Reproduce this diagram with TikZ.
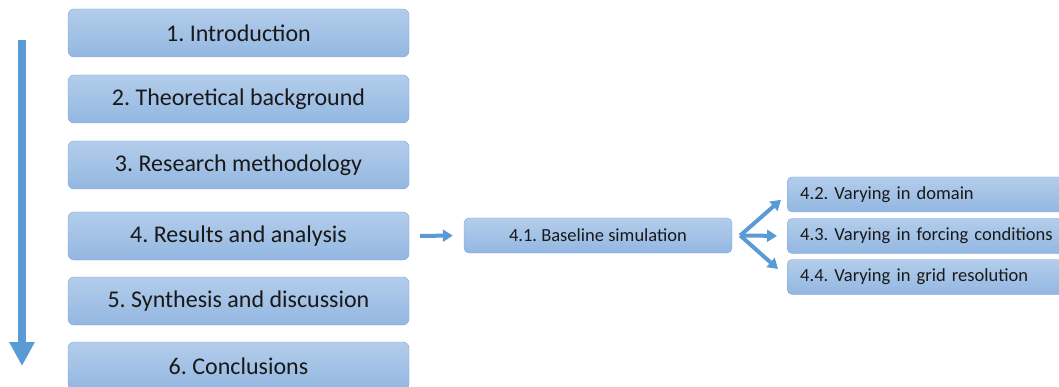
\documentclass[tikz,border=0pt]{standalone}
\usepackage{fontspec}
\setmainfont{Carlito}
\usepackage{xcolor}
\usepackage{tikz}
\usetikzlibrary{positioning,arrows.meta}
\frenchspacing
\definecolor{boxtop}{HTML}{B3CDEB}
\definecolor{boxbot}{HTML}{93B7E1}
\definecolor{boxline}{HTML}{7AA6D8}
\definecolor{flowblue}{HTML}{5B9BD5}
\tikzset{
  chap/.style={rectangle, rounded corners=6pt, draw=boxline, top color=boxtop, bottom color=boxbot,
    minimum width=341pt, minimum height=48pt, font=\fontsize{24}{28}\selectfont, text=black!90},
  sub/.style={rectangle, rounded corners=5pt, draw=boxline, top color=boxtop, bottom color=boxbot,
    minimum height=35pt, font=\fontsize{18.5}{22}\selectfont, text=black!90},
  subl/.style={sub, anchor=west, text width=294pt, inner xsep=13pt, align=left},
  flow/.style={draw=flowblue, line width=4pt, -{Triangle[width=12pt, length=10pt]}},
  bigflow/.style={draw=flowblue, line width=8pt, -{Triangle[width=24pt, length=24pt]}}
}
\begin{document}
\begin{tikzpicture}[x=1pt, y=-1pt]
  \useasboundingbox (0,0) rectangle (1059,387);

  % Chapter boxes
  \node[chap] (c1) at (238.5,33) {1. Introduction};
  \node[chap] (c2) at (238.5,99) {2. Theoretical background};
  \node[chap] (c3) at (238.5,165) {3. Research methodology};
  \node[chap] (c4) at (238.5,236) {4. Results and analysis};
  \node[chap] (c5) at (238.5,301) {5. Synthesis and discussion};
  \node[chap] (c6) at (238.5,366) {6. Conclusions};

  % Reading order arrow
  \coordinate (top) at (22,40);
  \coordinate (bot) at (22,366);
  \draw[bigflow] (top) -- (bot);

  % Baseline box
  \node[sub, minimum width=268pt] (base) at (598,235.5) {4.1. Baseline simulation};
  \draw[flow, shorten <=11pt, shorten >=11pt] (c4.east) -- (base.west);

  % Variation boxes
  \node[subl] (v1) at (787,194.5) {4.2. Varying in domain};
  \node[subl] (v2) at (787,236) {4.3. Varying in forcing conditions};
  \node[subl] (v3) at (787,277) {4.4. Varying in grid resolution};

  % Fork
  \coordinate (fork) at ([xshift=8pt]base.east);
  \draw[flow, shorten >=8pt] (fork) -- (v1.west);
  \draw[flow, shorten >=10pt] (fork) -- (v2.west);
  \draw[flow, shorten >=12pt] (fork) -- (v3.west);
\end{tikzpicture}
\end{document}
